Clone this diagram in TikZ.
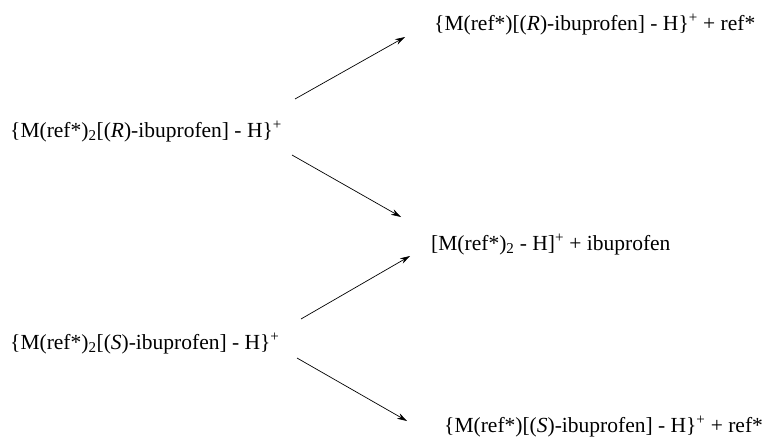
\documentclass[tikz,border=0pt]{standalone}
\usepackage{fontspec}
\setmainfont{Liberation Serif}
\usetikzlibrary{arrows.meta}
\tikzset{
  species/.style={anchor=base west, inner sep=0pt, font=\fontsize{21.5}{25}\selectfont},
  reaction/.style={-{Stealth[length=10pt,width=6pt]}, line width=0.7pt},
}
\begin{document}
\begin{tikzpicture}[x=1pt,y=-1pt]
\useasboundingbox (0,0) rectangle (763,439);
\node[species] (rR) at (10,137) {\{M(ref*)\textsubscript{2}[(\textit{R})-ibuprofen] - H\}\textsuperscript{+}};
\node[species] (rS) at (10,349) {\{M(ref*)\textsubscript{2}[(\textit{S})-ibuprofen] - H\}\textsuperscript{+}};
\node[species] (pR) at (434,30) {\{M(ref*)[(\textit{R})-ibuprofen] - H\}\textsuperscript{+} + ref*};
\node[species] (pM) at (431,250) {[M(ref*)\textsubscript{2} - H]\textsuperscript{+} + ibuprofen};
\node[species] (pS) at (444,432) {\{M(ref*)[(\textit{S})-ibuprofen] - H\}\textsuperscript{+} + ref*};
\coordinate (a1s) at (295,99);  \coordinate (a1e) at (405,37);
\coordinate (a2s) at (292,155); \coordinate (a2e) at (401,217);
\coordinate (a3s) at (301,319); \coordinate (a3e) at (410,256);
\coordinate (a4s) at (297,358); \coordinate (a4e) at (407,421);
\draw[reaction] (a1s) -- (a1e);
\draw[reaction] (a2s) -- (a2e);
\draw[reaction] (a3s) -- (a3e);
\draw[reaction] (a4s) -- (a4e);
\end{tikzpicture}
\end{document}
